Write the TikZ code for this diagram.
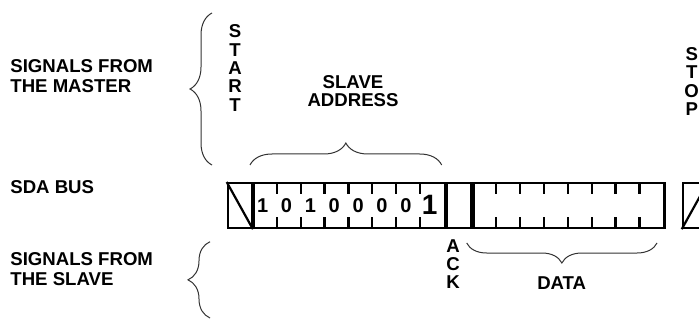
\documentclass[tikz,border=0pt]{standalone}
\usepackage{fontspec}
\setmainfont{Liberation Sans}
\usetikzlibrary{decorations.pathreplacing}

\begin{document}
\begin{tikzpicture}[x=0.5pt, y=-0.5pt,
	lbl/.style = {font=\fontsize{9.3}{10}\selectfont\bfseries, align=left, anchor=west, inner sep=0pt},
	stack/.style = {font=\fontsize{9.3}{9.2}\selectfont\bfseries, align=center, inner sep=0pt},
	cell/.style = {draw, line width=1.1pt, minimum height=22.5pt, inner sep=0pt, anchor=north west},
	bit/.style = {font=\fontsize{10}{10}\selectfont\bfseries, inner sep=0pt},
	brc/.style = {decorate, decoration={brace, amplitude=#1}, line width=0.5pt, black!80}]
	\useasboundingbox (0,0) rectangle (699,320);
	\clip (0,0) rectangle (699,320);
	% labels on the left
	\node[lbl] (master) at (10,76) {SIGNALS FROM\\THE MASTER};
	\node[lbl] (sda) at (10,187) {SDA BUS};
	\node[lbl] (slave) at (10,269) {SIGNALS FROM\\THE SLAVE};
	% the SDA line
	\node[cell, minimum width=12pt] (start) at (226.7,182) {};
	\node[cell, minimum width=95.5pt] (addr) at (start.north east) {};
	\node[cell, minimum width=12pt] (ack) at (addr.north east) {};
	\node[cell, minimum width=95.5pt] (data) at (ack.north east) {};
	\node[cell, minimum width=12pt] (stop) at (681.7,182) {};
	\draw[line width=1.1pt] (start.north west) -- (start.south east);
	\draw[line width=1.1pt] (stop.south west) -- (stop.north east);
	\foreach \i in {1,...,7} {
		\draw[line width=1.1pt] (addr.north west) ++(\i*23.875,0) -- ++(0,12);
		\draw[line width=1.1pt] (addr.south west) ++(\i*23.875,0) -- ++(0,-12);
		\draw[line width=1.1pt] (data.north west) ++(\i*23.875,0) -- ++(0,12);
		\draw[line width=1.1pt] (data.south west) ++(\i*23.875,0) -- ++(0,-12);
	}
	\foreach \b [count=\i] in {1,0,1,0,0,0,0}
		\node[bit] (b\i) at (250.7+\i*23.875-11.94,206) {\b};
	\node[bit, font=\fontsize{14}{14}\selectfont\bfseries] (b8) at (250.7+8*23.875-11.94,205) {1};
	% texts above and below
	\node[stack] (startlbl) at (235,68) {S\\T\\A\\R\\T};
	\node[stack] (saddr) at (353,91) {SLAVE\\ADDRESS};
	\node[stack] (stoplbl) at (691.7,81.5) {S\\T\\O\\P};
	\node[stack] (acklbl) at (453,264) {A\\C\\K};
	\node[stack] (datalbl) at (561.7,283) {DATA};
	% braces
	\coordinate (m1) at (212,165);
	\coordinate (m2) at (212,13);
	\coordinate (s1) at (210,318);
	\coordinate (s2) at (210,241.7);
	\coordinate (a1) at (250,165);
	\coordinate (a2) at (441.7,165);
	\coordinate (d1) at (657,243);
	\coordinate (d2) at (466.7,243);
	\draw[brc=11pt] (m1) -- (m2);
	\draw[brc=11pt] (s1) -- (s2);
	\draw[brc=11pt] (a1) -- (a2);
	\draw[brc=10pt] (d1) -- (d2);
\end{tikzpicture}
\end{document}
